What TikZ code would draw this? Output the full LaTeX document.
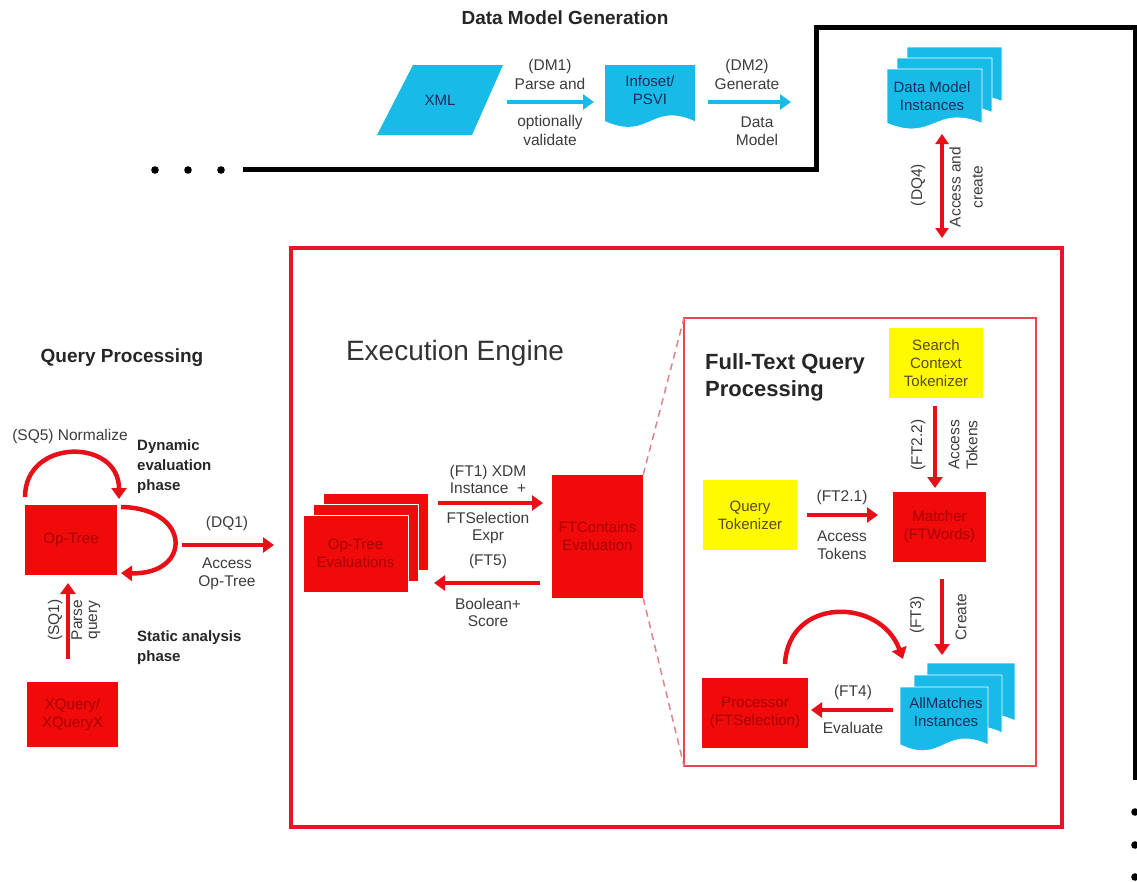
\documentclass[tikz,border=0pt]{standalone}
\usepackage{fontspec}
\setmainfont{Liberation Sans}
\usetikzlibrary{arrows.meta}
\definecolor{cyanc}{RGB}{24,186,232}
\definecolor{navytxt}{RGB}{25,45,90}
\definecolor{boxred}{RGB}{240,10,10}
\definecolor{redtxt}{RGB}{170,0,0}
\definecolor{arrred}{RGB}{232,16,24}
\definecolor{framered}{RGB}{226,22,38}
\definecolor{innerred}{RGB}{232,70,80}
\definecolor{dashred}{RGB}{222,130,140}
\definecolor{labelgray}{RGB}{60,60,60}
\definecolor{yel}{RGB}{255,250,0}
\definecolor{yeltxt}{RGB}{85,75,30}
\newcommand\mydoc[4]{(#1,#2) -- ({#1+#3},#2) -- ({#1+#3},{#2+0.85*#4}) .. controls ({#1+0.5*#3},{#2+0.55*#4}) and ({#1+0.5*#3},{#2+1.15*#4}) .. (#1,{#2+0.85*#4}) -- cycle}
\begin{document}
\begin{tikzpicture}[x=1pt,y=-1pt,
  lbl/.style={text=labelgray,font=\fontsize{15.5}{18}\selectfont,align=center,inner sep=0pt},
  boxtxt/.style={font=\fontsize{15}{18}\selectfont,align=center},
  redbox/.style={fill=boxred,draw=none,text=redtxt,boxtxt,inner sep=0pt},
  yelbox/.style={fill=yel,draw=none,text=yeltxt,boxtxt,inner sep=0pt},
  doctxt/.style={text=navytxt,boxtxt,inner sep=0pt},
  head/.style={font=\bfseries\fontsize{19}{22}\selectfont,text=black!85,inner sep=0pt},
  phase/.style={font=\bfseries\fontsize{15}{20}\selectfont,text=black!85,align=left,inner sep=0pt},
  redarrow/.style={draw=arrred,line width=4.5pt,-{Triangle[length=11pt,width=15pt]}},
  cyanarrow/.style={draw=cyanc,line width=4.5pt,-{Triangle[length=11pt,width=15pt]}},
  blackline/.style={draw=black,line width=5pt},
  stack/.style={draw=white,line width=0.8pt}
]
\useasboundingbox (0,0) rectangle (1137,881);

% ---------- black outline and dots
\coordinate (bl0) at (243,169);
\coordinate (bl1) at (816,169);
\coordinate (bl2) at (816,27);
\coordinate (bl3) at (1135,27);
\coordinate (bl4) at (1135,780);
\draw[blackline] (bl0) -- (bl1) -- (bl2) -- (bl3) -- (bl4);
\foreach \i/\x in {1/155,2/188,3/221} \fill (\x,170) circle (3.8);
\foreach \i/\y in {1/812,2/845,3/877} \fill (1135,\y) circle (3.8);

% ---------- Data Model Generation
\node[head] (dmg) at (565,18) {Data Model Generation};
\fill[cyanc] (413,65) -- (503,65) -- (472,135) -- (377,135) -- cycle;
\node[doctxt] (xml) at (440,100) {XML};
\fill[cyanc] \mydoc{605}{65}{90}{66};
\node[doctxt] (infoset) at (650,90) {Infoset/\\PSVI};
\coordinate (dm1s) at (507,102);
\coordinate (dm1e) at (594,102);
\draw[cyanarrow] (dm1s) -- (dm1e);
\node[lbl] (dm1a) at (550,66) {(DM1)};
\node[lbl] (dm1b) at (550,84) {Parse and};
\node[lbl] (dm1c) at (550,122) {optionally};
\node[lbl] (dm1d) at (550,140) {validate};
\coordinate (dm2s) at (708,102);
\coordinate (dm2e) at (791,102);
\draw[cyanarrow] (dm2s) -- (dm2e);
\node[lbl] (dm2a) at (747,66) {(DM2)};
\node[lbl] (dm2b) at (747,84) {Generate};
\node[lbl] (dm2c) at (757,122) {Data};
\node[lbl] (dm2d) at (757,140) {Model};

% ---------- Data Model Instances
\filldraw[fill=cyanc,stack] \mydoc{907}{47}{95}{64};
\filldraw[fill=cyanc,stack] \mydoc{897}{58}{95}{64};
\filldraw[fill=cyanc,stack] \mydoc{887}{69}{95}{64};
\node[doctxt] (dmi) at (932,96) {Data Model\\Instances};
\coordinate (dq4s) at (942,134);
\coordinate (dq4e) at (942,238);
\draw[draw=arrred,line width=4pt,{Triangle[length=10pt,width=13pt]}-{Triangle[length=10pt,width=13pt]}] (dq4s) -- (dq4e);
\node[lbl,rotate=90] (dq4a) at (918,185) {(DQ4)};
\node[lbl,rotate=90,font=\fontsize{15.5}{22}\selectfont] (dq4b) at (966,187) {Access and\\create};

% ---------- Execution Engine frame
\draw[framered,line width=3.5pt] (291,248) rectangle (1062,827);
\node[text=black!80,font=\fontsize{28}{32}\selectfont,inner sep=0pt] (ee) at (455,353) {Execution Engine};

% ---------- Query Processing
\node[head] (qp) at (122,358) {Query Processing};
\node[lbl] (sq5) at (70,436) {(SQ5) Normalize};
\node[redbox,minimum width=92pt,minimum height=70pt] (optree) at (71,540) {Op-Tree};
\node[redbox,minimum width=91pt,minimum height=65pt] (xq) at (72.5,714.5) {XQuery/\\XQueryX};
\coordinate (sq5s) at (25,497);
\coordinate (sq5e) at (119,499);
\draw[redarrow] (sq5s) .. controls (25,438) and (119,438) .. (sq5e);
\coordinate (loops) at (121,507);
\coordinate (loope) at (121,573);
\draw[redarrow] (loops) .. controls (192,508) and (192,575) .. (loope);
\node[phase,anchor=west] (dyn) at (137,467) {Dynamic\\evaluation\\phase};
\node[phase,anchor=west] (stat) at (137,648) {Static analysis\\phase};
\coordinate (dq1s) at (182,545);
\coordinate (dq1e) at (274,545);
\draw[redarrow] (dq1s) -- (dq1e);
\node[lbl] (dq1a) at (227,523) {(DQ1)};
\node[lbl] (dq1b) at (227,574) {Access\\Op-Tree};
\coordinate (sq1s) at (68,659);
\coordinate (sq1e) at (68,583);
\draw[redarrow] (sq1s) -- (sq1e);
\node[lbl,rotate=90] (sq1a) at (55,620) {(SQ1)};
\node[lbl,rotate=90,font=\fontsize{15.5}{15}\selectfont] (sq1b) at (86,620) {Parse\\query};

% ---------- Op-Tree Evaluations and FTContains
\filldraw[fill=boxred,stack] (323,493) rectangle (428,570);
\filldraw[fill=boxred,stack] (313,504) rectangle (418,581);
\node[redbox,draw=white,line width=0.8pt,minimum width=105pt,minimum height=77pt] (opeval) at (355.5,553.5) {Op-Tree\\Evaluations};
\node[redbox,minimum width=91pt,minimum height=123pt] (ftc) at (597.5,536.5) {FTContains\\Evaluation};
\coordinate (ft1s) at (438,503);
\coordinate (ft1e) at (543,503);
\draw[redarrow] (ft1s) -- (ft1e);
\node[lbl,font=\fontsize{15.5}{17}\selectfont] (ft1a) at (488,479) {(FT1) XDM\\Instance\ \ +};
\node[lbl,font=\fontsize{15.5}{17}\selectfont] (ft1b) at (488,528) {FTSelection\\Expr};
\coordinate (ft5s) at (540,583);
\coordinate (ft5e) at (434,583);
\draw[redarrow] (ft5s) -- (ft5e);
\node[lbl] (ft5a) at (488,561) {(FT5)};
\node[lbl,font=\fontsize{15.5}{17}\selectfont] (ft5b) at (488,612) {Boolean+\\Score};

% ---------- Full-Text Query Processing
\draw[innerred,line width=2pt] (684,318) rectangle (1036,766);
\draw[dashred,line width=1.5pt,dash pattern=on 7pt off 5pt] (ftc.north east) -- (684,318);
\draw[dashred,line width=1.5pt,dash pattern=on 7pt off 5pt] (ftc.south east) -- (684,766);
\node[font=\bfseries\fontsize{22}{27}\selectfont,text=black!85,align=left,anchor=west,inner sep=0pt] (ftqp) at (705,377) {Full-Text Query\\Processing};
\node[yelbox,minimum width=94pt,minimum height=70pt] (sct) at (936,363) {Search\\Context\\Tokenizer};
\node[yelbox,minimum width=94pt,minimum height=70pt] (qt) at (750,515) {Query\\Tokenizer};
\node[redbox,minimum width=93pt,minimum height=70pt] (matcher) at (939.5,527) {Matcher\\(FTWords)};
\node[redbox,minimum width=106pt,minimum height=70pt] (proc) at (755,713) {Processor\\(FTSelection)};
\filldraw[fill=cyanc,stack] \mydoc{927}{663}{88}{68};
\filldraw[fill=cyanc,stack] \mydoc{914}{675}{88}{68};
\filldraw[fill=cyanc,stack] \mydoc{900}{687}{88}{68};
\node[doctxt] (allm) at (946,712) {AllMatches\\Instances};

\coordinate (ft22s) at (935,406);
\coordinate (ft22e) at (935,488);
\draw[redarrow] (ft22s) -- (ft22e);
\node[lbl,rotate=90] (ft22a) at (918,445) {(FT2.2)};
\node[lbl,rotate=90] (ft22b) at (963,445) {Access\\Tokens};
\coordinate (ft21s) at (807,515);
\coordinate (ft21e) at (878,515);
\draw[redarrow] (ft21s) -- (ft21e);
\node[lbl] (ft21a) at (842,497) {(FT2.1)};
\node[lbl] (ft21b) at (842,545) {Access\\Tokens};
\coordinate (ft3s) at (942,579);
\coordinate (ft3e) at (942,655);
\draw[redarrow] (ft3s) -- (ft3e);
\node[lbl,rotate=90] (ft3a) at (917,615) {(FT3)};
\node[lbl,rotate=90] (ft3b) at (961,617) {Create};
\coordinate (ft4s) at (893,710);
\coordinate (ft4e) at (811,710);
\draw[redarrow] (ft4s) -- (ft4e);
\node[lbl] (ft4a) at (853,692) {(FT4)};
\node[lbl] (ft4b) at (853,728) {Evaluate};
\coordinate (evs) at (785,664);
\coordinate (eve) at (903,659);
\draw[redarrow] (evs) .. controls (788,597) and (880,597) .. (eve);
\end{tikzpicture}
\end{document}
